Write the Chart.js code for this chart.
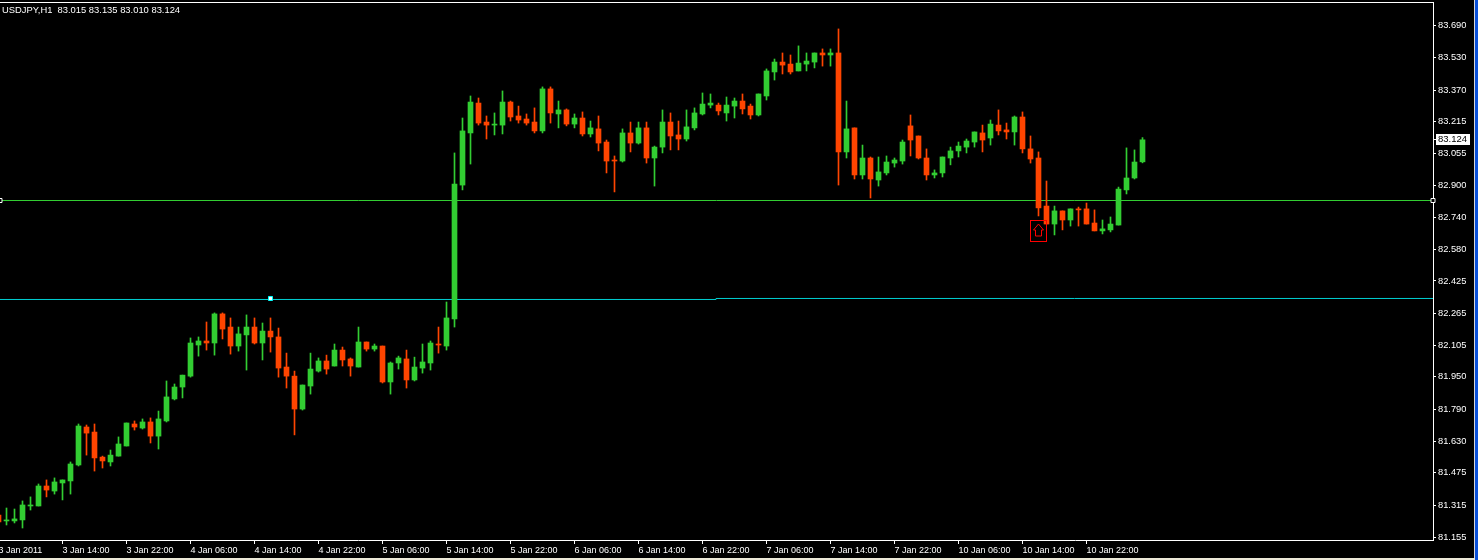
<!DOCTYPE html>
<html>
<head>
<meta charset="utf-8">
<title>USDJPY,H1</title>
<script src="https://cdn.jsdelivr.net/npm/chart.js@4"></script>
<style>
  html, body { margin: 0; padding: 0; width: 1478px; height: 560px; overflow: hidden; background: #0a50d8; }
  #frame { position: absolute; left: 0; top: 0; width: 1474px; height: 558px; background: #000; border-right: 1px solid #d8d8d8; }
  #foot { position: absolute; left: 0; top: 558px; width: 1475px; height: 2px; background: #ece9d8; }
  canvas { display: block; }
</style>
</head>
<body>
<div id="frame"><canvas id="candle-chart" width="1474" height="558"></canvas></div>
<div id="foot"></div>
<script>
// one entry per hour, bar 0 = 3 Jan 06:00
let opens = [
  81.266, 81.237, 81.237, 81.242, 81.311, 81.311, 81.410, 81.385, 81.425, 81.435, 81.514, 81.702,
  81.677, 81.553, 81.529, 81.558, 81.608, 81.717, 81.697, 81.727, 81.657, 81.732, 81.841, 81.900,
  81.954, 82.108, 82.128, 82.118, 82.262, 82.197, 82.103, 82.158, 82.197, 82.118, 82.177, 82.148,
  81.999, 81.954, 81.791, 81.905, 81.979, 82.029, 82.004, 82.083, 82.039, 81.999, 82.123, 82.088,
  82.103, 81.925, 82.019, 82.039, 81.935, 81.994, 82.019, 82.113, 82.103, 82.237, 82.900, 83.158,
  83.306, 83.212, 83.197, 83.197, 83.311, 83.242, 83.227, 83.212, 83.168, 83.376, 83.252, 83.272,
  83.202, 83.232, 83.153, 83.178, 83.113, 83.024, 83.019, 83.158, 83.108, 83.183, 83.034, 83.088,
  83.212, 83.148, 83.128, 83.183, 83.252, 83.296, 83.296, 83.257, 83.291, 83.316, 83.291, 83.247,
  83.341, 83.460, 83.509, 83.499, 83.465, 83.499, 83.509, 83.554, 83.544, 83.554, 83.064, 83.183,
  82.950, 83.034, 82.925, 82.960, 83.009, 83.019, 83.193, 83.143, 83.034, 82.950, 82.960, 83.034,
  83.069, 83.088, 83.113, 83.158, 83.133, 83.197, 83.173, 83.163, 83.237, 83.079, 83.034, 82.796,
  82.707, 82.772, 82.727, 82.782, 82.782, 82.712, 82.673, 82.678, 82.702, 82.876, 82.935, 83.015
];
let highs = [
  81.271, 81.301, 81.296, 81.336, 81.356, 81.420, 81.440, 81.450, 81.440, 81.529, 81.717, 81.712,
  81.717, 81.558, 81.588, 81.653, 81.722, 81.732, 81.742, 81.747, 81.781, 81.930, 81.915, 81.959,
  82.143, 82.148, 82.222, 82.267, 82.267, 82.242, 82.197, 82.257, 82.242, 82.217, 82.242, 82.192,
  82.068, 81.979, 81.910, 82.068, 82.044, 82.058, 82.113, 82.098, 82.044, 82.197, 82.123, 82.113,
  82.103, 82.024, 82.053, 82.083, 82.048, 82.113, 82.128, 82.197, 82.321, 83.059, 83.232, 83.341,
  83.331, 83.242, 83.257, 83.366, 83.316, 83.291, 83.252, 83.282, 83.386, 83.386, 83.316, 83.277,
  83.252, 83.262, 83.217, 83.242, 83.123, 83.044, 83.178, 83.212, 83.212, 83.212, 83.093, 83.272,
  83.257, 83.217, 83.272, 83.282, 83.356, 83.351, 83.306, 83.336, 83.331, 83.351, 83.301, 83.351,
  83.475, 83.524, 83.554, 83.544, 83.589, 83.554, 83.554, 83.574, 83.574, 83.673, 83.316, 83.183,
  83.098, 83.039, 83.039, 83.044, 83.034, 83.123, 83.247, 83.143, 83.079, 82.975, 83.039, 83.088,
  83.113, 83.128, 83.163, 83.197, 83.222, 83.272, 83.207, 83.242, 83.262, 83.143, 83.064, 82.920,
  82.796, 82.772, 82.782, 82.791, 82.811, 82.777, 82.727, 82.742, 82.890, 83.084, 83.074, 83.135
];
let lows = [
  81.222, 81.217, 81.227, 81.202, 81.291, 81.311, 81.356, 81.370, 81.341, 81.370, 81.509, 81.563,
  81.484, 81.499, 81.509, 81.558, 81.608, 81.687, 81.692, 81.623, 81.593, 81.727, 81.836, 81.846,
  81.949, 82.053, 82.083, 82.058, 82.138, 82.063, 82.078, 81.984, 82.113, 82.034, 82.073, 81.949,
  81.895, 81.663, 81.786, 81.865, 81.974, 81.964, 82.004, 82.004, 81.954, 81.999, 82.078, 82.078,
  81.920, 81.865, 81.989, 81.895, 81.930, 81.969, 81.984, 82.068, 82.083, 82.197, 82.876, 83.004,
  83.197, 83.128, 83.148, 83.153, 83.217, 83.207, 83.197, 83.158, 83.158, 83.207, 83.183, 83.193,
  83.183, 83.143, 83.138, 83.069, 82.960, 82.866, 83.014, 83.064, 83.103, 83.009, 82.895, 83.059,
  83.074, 83.074, 83.118, 83.173, 83.247, 83.282, 83.247, 83.217, 83.232, 83.252, 83.227, 83.242,
  83.321, 83.420, 83.450, 83.450, 83.465, 83.465, 83.480, 83.489, 83.489, 82.900, 83.034, 82.930,
  82.930, 82.836, 82.895, 82.950, 82.989, 83.004, 83.044, 83.029, 82.925, 82.935, 82.940, 83.000,
  83.039, 83.059, 83.088, 83.064, 83.098, 83.148, 83.128, 83.098, 83.059, 83.009, 82.747, 82.707,
  82.653, 82.678, 82.697, 82.697, 82.707, 82.673, 82.658, 82.668, 82.702, 82.856, 82.930, 83.010
];
let closes = [
  81.232, 81.242, 81.247, 81.316, 81.316, 81.410, 81.390, 81.430, 81.440, 81.519, 81.707, 81.672,
  81.549, 81.534, 81.563, 81.618, 81.722, 81.702, 81.727, 81.657, 81.742, 81.851, 81.900, 81.959,
  82.118, 82.128, 82.118, 82.262, 82.187, 82.103, 82.163, 82.197, 82.118, 82.177, 82.148, 81.994,
  81.954, 81.791, 81.910, 81.989, 82.029, 81.989, 82.083, 82.034, 82.004, 82.123, 82.088, 82.103,
  81.925, 82.019, 82.044, 81.935, 81.999, 82.024, 82.118, 82.108, 82.242, 82.905, 83.168, 83.311,
  83.207, 83.197, 83.202, 83.311, 83.237, 83.222, 83.207, 83.168, 83.376, 83.257, 83.272, 83.202,
  83.232, 83.153, 83.183, 83.108, 83.019, 83.019, 83.158, 83.108, 83.183, 83.034, 83.088, 83.212,
  83.143, 83.128, 83.188, 83.257, 83.301, 83.306, 83.267, 83.296, 83.316, 83.277, 83.247, 83.351,
  83.465, 83.509, 83.494, 83.460, 83.504, 83.514, 83.554, 83.544, 83.554, 83.064, 83.178, 82.950,
  83.034, 82.930, 82.965, 83.014, 83.024, 83.113, 83.123, 83.034, 82.950, 82.960, 83.039, 83.069,
  83.093, 83.118, 83.163, 83.123, 83.202, 83.168, 83.163, 83.237, 83.079, 83.029, 82.787, 82.707,
  82.772, 82.727, 82.782, 82.777, 82.707, 82.673, 82.683, 82.707, 82.880, 82.935, 83.014, 83.124
];

let timeBars = [0, 8, 16, 24, 32, 40, 48, 56, 64, 72, 80, 88, 96, 104, 112, 120, 128, 136];
let timeLabels = ['3 Jan 2011', '3 Jan 14:00', '3 Jan 22:00', '4 Jan 06:00', '4 Jan 14:00', '4 Jan 22:00',
  '5 Jan 06:00', '5 Jan 14:00', '5 Jan 22:00', '6 Jan 06:00', '6 Jan 14:00', '6 Jan 22:00',
  '7 Jan 06:00', '7 Jan 14:00', '7 Jan 22:00', '10 Jan 06:00', '10 Jan 14:00', '10 Jan 22:00'];
let priceTicks = [83.690, 83.530, 83.370, 83.215, 83.055, 82.900, 82.740, 82.580, 82.425, 82.265,
  82.105, 81.950, 81.790, 81.630, 81.475, 81.315, 81.155];

let symbolText = 'USDJPY,H1  83.015 83.135 83.010 83.124';
let lastPrice = 83.124;

let firstBar = 0.1875;
let lastBar = 179.3125;
let greenLinePrice = 82.8235;
let cyanLineBars = [firstBar, 89.6875, lastBar];
let cyanLinePrices = [82.3334, 82.3384, 82.3384];
let cyanAnchorBar = 34;
let arrowBar = 130;
let arrowPrice = 82.672;

const GREEN = '#32cd32';
const ORANGE = '#ff4500';
const FONT = 'Liberation Sans';

let barColors = opens.map(function (o, i) { return closes[i] >= o ? GREEN : ORANGE; });

// top frame line, price tag, red arrow box and header text
const overlay = {
  id: 'overlay',
  afterDraw: function (chart) {
    const ctx = chart.ctx;
    const xs = chart.scales.x;
    const ys = chart.scales.y;
    const area = chart.chartArea;
    ctx.save();

    ctx.fillStyle = '#fff';
    ctx.fillRect(0, area.top - 1, area.right + 1, 1);

    // arrow object
    const ax = Math.floor(xs.getPixelForValue(arrowBar)) + 0.5;
    const ay = Math.round(ys.getPixelForValue(arrowPrice));
    ctx.strokeStyle = '#ff0000';
    ctx.lineWidth = 1;
    ctx.strokeRect(ax - 8, ay - 10.5, 16, 21);
    ctx.beginPath();
    ctx.moveTo(ax, ay - 7);
    ctx.lineTo(ax + 5, ay - 1);
    ctx.lineTo(ax + 3, ay - 1);
    ctx.lineTo(ax + 3, ay + 5);
    ctx.lineTo(ax - 3, ay + 5);
    ctx.lineTo(ax - 3, ay - 1);
    ctx.lineTo(ax - 5, ay - 1);
    ctx.closePath();
    ctx.stroke();

    // current price tag on the axis
    const py = Math.floor(ys.getPixelForValue(lastPrice));
    ctx.fillStyle = '#fff';
    ctx.fillRect(area.right, py, 3, 1);
    ctx.fillRect(area.right + 3, py - 5, 34, 11);
    ctx.fillStyle = '#000';
    ctx.font = '9.5px "' + FONT + '"';
    ctx.textBaseline = 'middle';
    ctx.textAlign = 'left';
    ctx.fillText(lastPrice.toFixed(3), area.right + 5, py + 0.5);

    ctx.fillStyle = '#fff';
    ctx.font = '9.4px "' + FONT + '"';
    ctx.fillText(symbolText, 2, 10.5);
    ctx.restore();
  }
};

new Chart(document.getElementById('candle-chart').getContext('2d'), {
  type: 'bar',
  data: {
    datasets: [
      {
        label: 'bodies',
        order: 1,
        grouped: false,
        barThickness: 5,
        borderWidth: 0,
        backgroundColor: barColors,
        data: opens.map(function (o, i) { return { x: i, y: [o, closes[i]] }; })
      },
      {
        label: 'wicks',
        order: 2,
        grouped: false,
        barThickness: 1,
        borderWidth: 0,
        backgroundColor: barColors,
        data: lows.map(function (l, i) { return { x: i, y: [l, highs[i]] }; })
      },
      {
        type: 'line',
        label: 'green level',
        order: 3,
        borderColor: GREEN,
        borderWidth: 1,
        pointRadius: 0,
        data: [{ x: firstBar, y: greenLinePrice }, { x: lastBar, y: greenLinePrice }]
      },
      {
        type: 'line',
        label: 'cyan trend',
        order: 3,
        stepped: 'before',
        borderColor: '#00ced1',
        borderWidth: 1,
        pointRadius: 0,
        data: cyanLineBars.map(function (b, i) { return { x: b, y: cyanLinePrices[i] }; })
      },
      {
        type: 'scatter',
        label: 'green anchors',
        order: 0,
        clip: false,
        pointStyle: 'rect',
        pointRadius: 2.83,
        backgroundColor: '#000',
        borderColor: '#fff',
        borderWidth: 1,
        data: [{ x: firstBar, y: greenLinePrice }, { x: lastBar, y: greenLinePrice }]
      },
      {
        type: 'scatter',
        label: 'cyan anchor',
        order: 0,
        pointStyle: 'rect',
        pointRadius: 2.83,
        backgroundColor: '#fff',
        borderColor: '#00ffff',
        borderWidth: 1,
        data: [{ x: cyanAnchorBar, y: cyanLinePrices[0] + 0.005 }]
      }
    ]
  },
  options: {
    responsive: false,
    animation: false,
    events: [],
    layout: { autoPadding: false, padding: { top: 3, left: 0, right: 0, bottom: 0 } },
    plugins: {
      legend: { display: false },
      tooltip: { enabled: false }
    },
    scales: {
      x: {
        type: 'linear',
        min: firstBar,
        max: lastBar,
        offset: false,
        bounds: 'data',
        border: { color: '#fff' },
        grid: { offset: false, drawOnChartArea: false, drawTicks: true, tickLength: 4, tickColor: '#fff' },
        ticks: {
          color: '#fff',
          font: { family: FONT, size: 9 },
          align: 'start',
          autoSkip: false,
          maxRotation: 0,
          padding: 1,
          callback: function (value) { return timeLabels[timeBars.indexOf(value)]; }
        },
        afterBuildTicks: function (scale) {
          scale.ticks = timeBars.map(function (b) { return { value: b }; });
        },
        afterFit: function (scale) {
          scale.height = 18;
          scale.paddingLeft = 0;
          scale.paddingRight = 0;
        }
      },
      y: {
        type: 'linear',
        position: 'right',
        min: 81.1426,
        max: 83.8014,
        bounds: 'data',
        border: { color: '#fff' },
        grid: { drawOnChartArea: false, drawTicks: true, tickLength: 3, tickColor: '#fff' },
        ticks: {
          color: '#fff',
          font: { family: FONT, size: 9.3 },
          autoSkip: false,
          padding: 2,
          callback: function (value) { return value.toFixed(3); }
        },
        afterBuildTicks: function (scale) {
          scale.ticks = priceTicks.map(function (p) { return { value: p }; });
        },
        afterFit: function (scale) {
          scale.width = 41;
          scale.paddingTop = 0;
          scale.paddingBottom = 0;
        }
      }
    }
  },
  plugins: [overlay]
});
</script>
</body>
</html>
